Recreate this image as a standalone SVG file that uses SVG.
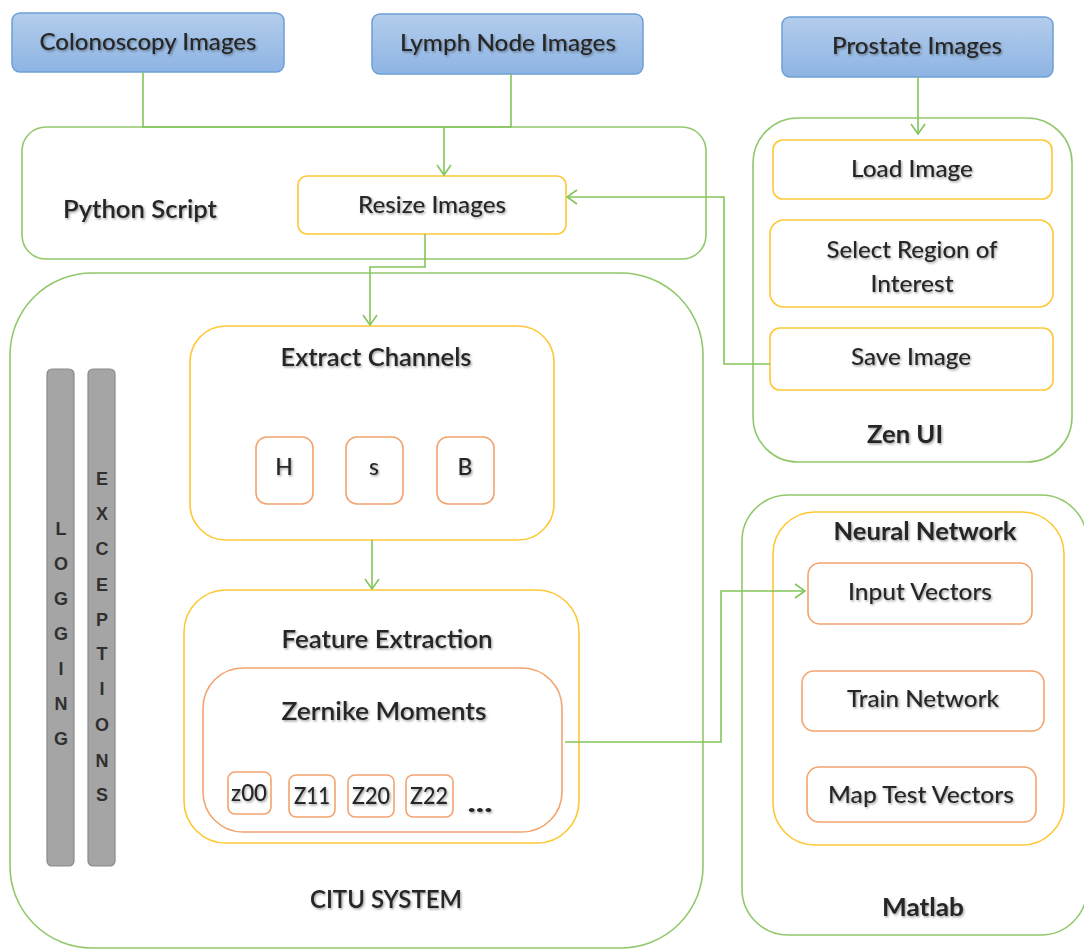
<svg xmlns="http://www.w3.org/2000/svg" width="1084" height="949" viewBox="0 0 1084 949">
  <defs>
    <linearGradient id="blueFill" x1="0" y1="0" x2="0" y2="1">
      <stop offset="0" stop-color="#b3cdec"/>
      <stop offset="1" stop-color="#8eb4e3"/>
    </linearGradient>
    <filter id="txtShadow" x="-10%" y="-30%" width="120%" height="160%">
      <feDropShadow dx="1.2" dy="1.4" stdDeviation="0.9" flood-color="#000" flood-opacity="0.38"/>
    </filter>
    <marker id="arrow" viewBox="0 0 12 16" refX="11" refY="8" markerWidth="12" markerHeight="16" markerUnits="userSpaceOnUse" orient="auto">
      <path d="M1,1 L11,8 L1,15" fill="none" stroke="#84c55a" stroke-width="1.6"/>
    </marker>
  </defs>
  <style>
    .src { fill: url(#blueFill); stroke: #6e9fd6; stroke-width: 1.5; }
    .container { fill: #ffffff; stroke: #92c86c; stroke-width: 1.6; }
    .box { fill: #ffffff; stroke: #ffc733; stroke-width: 1.6; }
    .sub { fill: #ffffff; stroke: #f2a46e; stroke-width: 1.6; }
    .bar { fill: #a5a5a5; stroke: #8a8a8a; stroke-width: 1.2; }
    .conn { fill: none; stroke: #84c55a; stroke-width: 1.6; }
    text { font-family: Lato, "Liberation Sans", sans-serif; fill: #262626; text-anchor: middle; filter: url(#txtShadow); }
    .lbl { font-size: 23px; font-weight: 500; }
    .title { font-size: 24px; font-weight: 600; }
    .strong { font-weight: 700; }
    .letter { font-family: "Liberation Sans", sans-serif; font-size: 18px; font-weight: 700; fill: #303030; filter: none; }
  </style>

  <!-- containers -->
  <g id="python-script">
    <rect class="container" x="22" y="127" width="684" height="132" rx="24"/>
    <text class="title" x="140" y="218" textLength="154" lengthAdjust="spacingAndGlyphs">Python Script</text>
  </g>
  <g id="zen-ui">
    <rect class="container" x="753" y="118" width="319" height="344" rx="45"/>
    <text class="title strong" x="905" y="443" textLength="76" lengthAdjust="spacingAndGlyphs">Zen UI</text>
  </g>
  <g id="citu-system">
    <rect class="container" x="10" y="273" width="693" height="675" rx="82"/>
    <text class="title" x="386" y="908" textLength="152" lengthAdjust="spacingAndGlyphs">CITU SYSTEM</text>
  </g>
  <g id="matlab">
    <rect class="container" x="742" y="495" width="345" height="440" rx="46"/>
    <text class="title strong" x="923" y="916" textLength="82" lengthAdjust="spacingAndGlyphs">Matlab</text>
  </g>

  <!-- image sources -->
  <g id="colonoscopy-images">
    <rect class="src" x="12" y="13" width="272" height="59" rx="8"/>
    <text class="lbl" x="148" y="50" textLength="217" lengthAdjust="spacingAndGlyphs">Colonoscopy Images</text>
  </g>
  <g id="lymph-node-images">
    <rect class="src" x="372" y="14" width="271" height="60" rx="8"/>
    <text class="lbl" x="508" y="51" textLength="216" lengthAdjust="spacingAndGlyphs">Lymph Node Images</text>
  </g>
  <g id="prostate-images">
    <rect class="src" x="782" y="17" width="271" height="60" rx="8"/>
    <text class="lbl" x="917" y="54" textLength="170" lengthAdjust="spacingAndGlyphs">Prostate Images</text>
  </g>

  <!-- python script step -->
  <g id="resize-images">
    <rect class="box" x="298" y="176" width="268" height="58" rx="9"/>
    <text class="lbl" x="432" y="213" textLength="148" lengthAdjust="spacingAndGlyphs">Resize Images</text>
  </g>

  <!-- zen ui steps -->
  <g id="load-image">
    <rect class="box" x="773" y="140" width="279" height="59" rx="10"/>
    <text class="lbl" x="912" y="177" textLength="122" lengthAdjust="spacingAndGlyphs">Load Image</text>
  </g>
  <g id="select-roi">
    <rect class="box" x="770" y="220" width="283" height="87" rx="14"/>
    <text class="lbl" x="912" y="258" textLength="171" lengthAdjust="spacingAndGlyphs">Select Region of</text>
    <text class="lbl" x="912" y="292" textLength="83" lengthAdjust="spacingAndGlyphs">Interest</text>
  </g>
  <g id="save-image">
    <rect class="box" x="770" y="328" width="283" height="62" rx="10"/>
    <text class="lbl" x="911" y="365" textLength="120" lengthAdjust="spacingAndGlyphs">Save Image</text>
  </g>

  <!-- cross-cutting bars -->
  <g id="logging">
    <rect class="bar" x="47" y="369" width="27" height="497" rx="5"/>
    <text class="letter" x="61" y="535">L</text>
    <text class="letter" x="61" y="570">O</text>
    <text class="letter" x="61" y="605">G</text>
    <text class="letter" x="61" y="640">G</text>
    <text class="letter" x="61" y="675">I</text>
    <text class="letter" x="61" y="710">N</text>
    <text class="letter" x="61" y="745">G</text>
  </g>
  <g id="exceptions">
    <rect class="bar" x="88" y="369" width="27" height="497" rx="5"/>
    <text class="letter" x="102" y="485">E</text>
    <text class="letter" x="102" y="520">X</text>
    <text class="letter" x="102" y="555">C</text>
    <text class="letter" x="102" y="591">E</text>
    <text class="letter" x="102" y="626">P</text>
    <text class="letter" x="102" y="660">T</text>
    <text class="letter" x="102" y="695">I</text>
    <text class="letter" x="102" y="731">O</text>
    <text class="letter" x="102" y="767">N</text>
    <text class="letter" x="102" y="801">S</text>
  </g>

  <!-- channel extraction -->
  <g id="extract-channels">
    <rect class="box" x="190" y="326" width="364" height="214" rx="36"/>
    <text class="title" x="376" y="366" textLength="191" lengthAdjust="spacingAndGlyphs">Extract Channels</text>
  </g>
  <g id="channel-h">
    <rect class="sub" x="256" y="437" width="57" height="67" rx="11"/>
    <text class="lbl" x="284" y="475">H</text>
  </g>
  <g id="channel-s">
    <rect class="sub" x="346" y="437" width="57" height="67" rx="11"/>
    <text class="lbl" x="374" y="475">s</text>
  </g>
  <g id="channel-b">
    <rect class="sub" x="437" y="437" width="57" height="67" rx="11"/>
    <text class="lbl" x="465" y="475">B</text>
  </g>

  <!-- feature extraction -->
  <g id="feature-extraction">
    <rect class="box" x="184" y="590" width="395" height="253" rx="42"/>
    <text class="title" x="387" y="648" textLength="211" lengthAdjust="spacingAndGlyphs">Feature Extraction</text>
  </g>
  <g id="zernike-moments">
    <rect class="sub" x="203" y="668" width="359" height="164" rx="40"/>
    <text class="title" x="384" y="720" textLength="205" lengthAdjust="spacingAndGlyphs">Zernike Moments</text>
  </g>
  <g id="z00">
    <rect class="sub" x="228" y="772" width="43" height="42" rx="7"/>
    <text class="lbl" x="249" y="801" textLength="36" lengthAdjust="spacingAndGlyphs">z00</text>
  </g>
  <g id="z11">
    <rect class="sub" x="289" y="775" width="46" height="42" rx="7"/>
    <text class="lbl" x="312" y="804" textLength="36" lengthAdjust="spacingAndGlyphs">Z11</text>
  </g>
  <g id="z20">
    <rect class="sub" x="348" y="775" width="46" height="42" rx="7"/>
    <text class="lbl" x="371" y="804" textLength="38" lengthAdjust="spacingAndGlyphs">Z20</text>
  </g>
  <g id="z22">
    <rect class="sub" x="406" y="775" width="47" height="42" rx="7"/>
    <text class="lbl" x="429" y="804" textLength="38" lengthAdjust="spacingAndGlyphs">Z22</text>
  </g>
  <g id="more-moments">
    <text class="title strong" x="480" y="812" style="font-weight:900" textLength="25" lengthAdjust="spacingAndGlyphs">...</text>
  </g>

  <!-- neural network -->
  <g id="neural-network">
    <rect class="box" x="773" y="512" width="291" height="333" rx="42"/>
    <text class="title strong" x="925" y="540" textLength="183" lengthAdjust="spacingAndGlyphs">Neural Network</text>
  </g>
  <g id="input-vectors">
    <rect class="sub" x="808" y="563" width="224" height="61" rx="12"/>
    <text class="lbl" x="920" y="600" textLength="144" lengthAdjust="spacingAndGlyphs">Input Vectors</text>
  </g>
  <g id="train-network">
    <rect class="sub" x="802" y="671" width="242" height="60" rx="12"/>
    <text class="lbl" x="923" y="707" textLength="152" lengthAdjust="spacingAndGlyphs">Train Network</text>
  </g>
  <g id="map-test-vectors">
    <rect class="sub" x="807" y="767" width="229" height="55" rx="12"/>
    <text class="lbl" x="921" y="803" textLength="186" lengthAdjust="spacingAndGlyphs">Map Test Vectors</text>
  </g>

  <!-- connectors -->
  <g id="connectors">
    <polyline class="conn" points="143,72 143,127 511,127 511,74"/>
    <line class="conn" x1="444" y1="127" x2="444" y2="175" marker-end="url(#arrow)"/>
    <polyline class="conn" points="918,77 918,134" marker-end="url(#arrow)"/>
    <polyline class="conn" points="770,364 724,364 724,197 567,197" marker-end="url(#arrow)"/>
    <polyline class="conn" points="425,234 425,267 370,267 370,325" marker-end="url(#arrow)"/>
    <line class="conn" x1="372" y1="540" x2="372" y2="589" marker-end="url(#arrow)"/>
    <polyline class="conn" points="565,742 721,742 721,591 805,591" marker-end="url(#arrow)"/>
  </g>
</svg>
